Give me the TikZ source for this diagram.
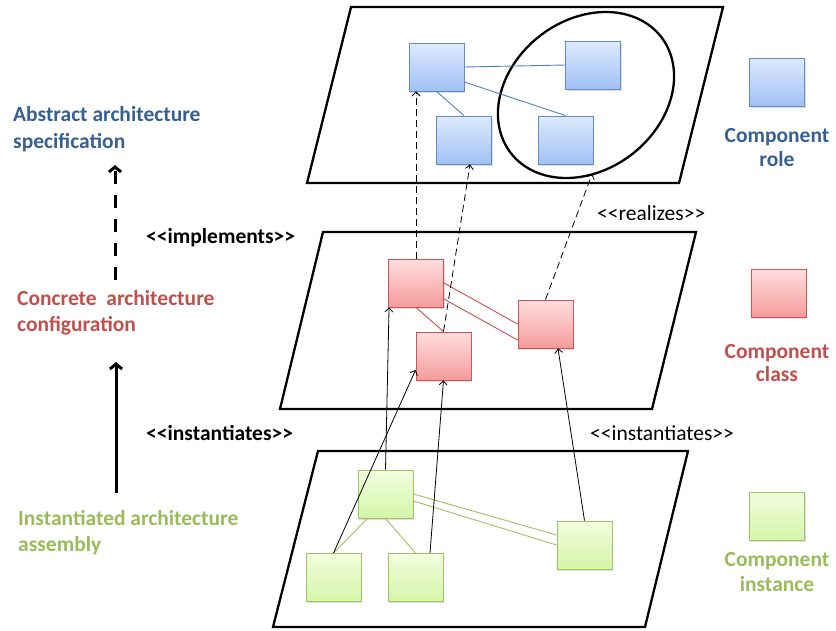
\documentclass[tikz,border=0pt]{standalone}
\usepackage{fontspec}
\setmainfont{Carlito}
\usetikzlibrary{arrows.meta,shadows}
\definecolor{txtblue}{RGB}{55,96,146}
\definecolor{txtred}{RGB}{192,80,77}
\definecolor{txtgreen}{RGB}{155,187,89}
\definecolor{roleborder}{RGB}{95,140,200}
\definecolor{roletop}{RGB}{222,234,253}
\definecolor{rolebot}{RGB}{160,193,245}
\definecolor{classborder}{RGB}{205,85,85}
\definecolor{classtop}{RGB}{255,222,222}
\definecolor{classbot}{RGB}{245,155,155}
\definecolor{instborder}{RGB}{160,192,100}
\definecolor{insttop}{RGB}{242,253,222}
\definecolor{instbot}{RGB}{212,245,168}
\definecolor{linkblue}{RGB}{79,129,189}
\definecolor{linkred}{RGB}{200,80,77}
\definecolor{linkgreen}{RGB}{160,190,100}
\newcommand{\stopen}{<\kern0pt<}
\newcommand{\stclose}{>\kern0pt>}
\begin{document}
\begin{tikzpicture}[x=1pt,y=-1pt,
  plane/.style={draw, line width=2.3pt, line join=miter},
  comp/.style={draw, minimum width=55pt, minimum height=48pt, inner sep=0pt, line width=0.9pt,
    drop shadow={shadow xshift=1.2pt, shadow yshift=-1.5pt, opacity=0.25}},
  role/.style={comp, draw=roleborder, top color=roletop, bottom color=rolebot},
  cls/.style={comp, draw=classborder, top color=classtop, bottom color=classbot},
  inst/.style={comp, draw=instborder, top color=insttop, bottom color=instbot},
  lbl/.style={inner sep=0pt, font=\fontsize{21.5}{26}\selectfont},
  blbl/.style={inner sep=0pt, font=\fontsize{21.5}{26}\selectfont\bfseries},
  thinarrow/.style={line width=0.8pt, -{Straight Barb[length=4pt,width=8pt]}},
  dasharrow/.style={thinarrow, dash pattern=on 7pt off 4pt},
  bluelink/.style={draw=linkblue, line width=0.9pt},
  redlink/.style={draw=linkred, line width=0.9pt},
  greenlink/.style={draw=linkgreen, line width=0.9pt},
]
\useasboundingbox (0,0) rectangle (836,630);

% planes
\draw[plane] (351,7) -- (723,7) -- (679,183) -- (307,183) -- cycle;
\draw[plane] (323,232) -- (696,232) -- (652,409) -- (280,409) -- cycle;
\draw[plane] (318,451) -- (688,451) -- (645,627) -- (273,627) -- cycle;

% ellipse (major axis tilted up-right)
\draw[line width=2.3pt, shift={(586,95)}] plot[domain=0:360, samples=90, smooth cycle]
  ({95*cos(\x)*cos(37.6) + 75*sin(\x)*sin(37.6)}, {-95*cos(\x)*sin(37.6) + 75*sin(\x)*cos(37.6)});
\coordinate (Ebot) at (592,174);

% role components
\node[role] (B1) at (436.5,67) {};
\node[role] (B2) at (593,65) {};
\node[role] (B3) at (464,140) {};
\node[role] (B4) at (565.5,140) {};
\draw[bluelink] (B1.east) -- (B2.west);
\draw[bluelink] ([yshift=-15pt]B1.east) -- (B4.north);
\draw[bluelink] (B1.south) -- (B3.north);

% class components
\node[cls] (R1) at (416,283) {};
\node[cls] (R2) at (443.5,356) {};
\node[cls] (R3) at (545.5,324) {};
\draw[redlink] (R1.south) -- (R2.north);
\draw[redlink] (R1.east) -- (R3.west);
\draw[redlink] ([yshift=-16pt]R1.east) -- ([yshift=-16pt]R3.west);

% instance components
\node[inst] (G1) at (385.5,494) {};
\node[inst] (G2) at (333.5,577.5) {};
\node[inst] (G3) at (415.5,577.5) {};
\node[inst] (G4) at (584.5,545) {};
\draw[greenlink] ([xshift=-18pt]G1.south) -- (G2.north);
\draw[greenlink] (G1.south) -- (G3.north);
\draw[greenlink] (G1.east) -- ([yshift=10pt]G4.west);
\draw[greenlink] ([yshift=-7pt]G1.east) -- (G4.west);

% realizes / implements arrows
\draw[dasharrow] (R1.north) -- (R1.north |- B1.south);
\draw[dasharrow] (R2.north) -- ([xshift=6pt]B3.south);
\draw[dasharrow] (R3.north) -- (Ebot);

% instantiates arrows
\draw[thinarrow] (G1.north) -- ([xshift=1pt]R1.south west);
\draw[thinarrow] (G2.north) -- ([yshift=-14pt]R2.west);
\draw[thinarrow] ([xshift=14.5pt]G3.north) -- (R2.south);
\draw[thinarrow] (G4.north) -- ([xshift=12.5pt]R3.south);

% stereotype labels
\node[lbl, anchor=base west] (realizes) at (597,220) {\stopen realizes\stclose};
\node[lbl, anchor=base west] (instr) at (590,440) {\stopen instantiates\stclose};
\node[blbl, anchor=base west] (impl) at (146,243) {\stopen implements\stclose};
\node[blbl, anchor=base west] (instl) at (146,440) {\stopen instantiates\stclose};

% left level labels
\node[blbl, text=txtblue, anchor=base west] (abs1) at (13,121) {Abstract architecture};
\node[blbl, text=txtblue, anchor=base west] (abs2) at (13,148) {specification};
\node[blbl, text=txtred, anchor=base west] (con1) at (17,305) {Concrete\ \ architecture};
\node[blbl, text=txtred, anchor=base west] (con2) at (17,331) {configuration};
\node[blbl, text=txtgreen, anchor=base west] (ins1) at (18,525) {Instantiated architecture};
\node[blbl, text=txtgreen, anchor=base west] (ins2) at (18,551) {assembly};

% left arrows
\coordinate (impBot) at (115,280);
\coordinate (impTop) at (115,165);
\coordinate (insBot) at (116,493);
\coordinate (insTop) at (116,362);
\draw[line width=3pt, dash pattern=on 13pt off 11pt, -{Straight Barb[length=5pt,width=12pt]}] (impBot) -- (impTop);
\draw[line width=3pt, -{Straight Barb[length=5pt,width=12pt]}] (insBot) -- (insTop);

% legend
\node[role] (Lrole) at (777,82) {};
\node[blbl, text=txtblue, anchor=base] (Lrole1) at (777,142) {Component};
\node[blbl, text=txtblue, anchor=base] (Lrole2) at (777,166) {role};
\node[cls] (Lcls) at (778.5,293) {};
\node[blbl, text=txtred, anchor=base] (Lcls1) at (777,358) {Component};
\node[blbl, text=txtred, anchor=base] (Lcls2) at (777,381) {class};
\node[inst] (Linst) at (777,516) {};
\node[blbl, text=txtgreen, anchor=base] (Linst1) at (777,566) {Component};
\node[blbl, text=txtgreen, anchor=base] (Linst2) at (777,591) {instance};
\end{tikzpicture}
\end{document}
